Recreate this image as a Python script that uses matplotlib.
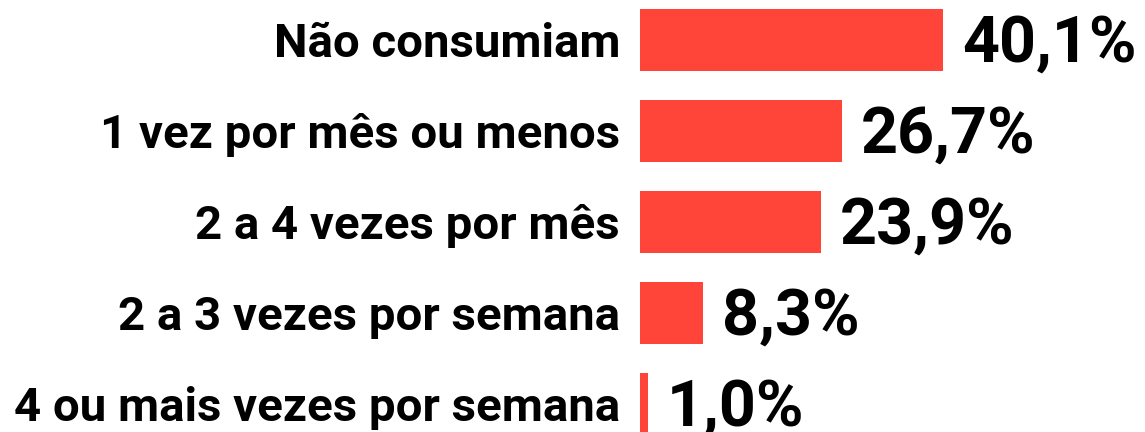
import matplotlib
matplotlib.use("Agg")
import matplotlib.pyplot as plt
from matplotlib import font_manager

categories = [
    "Não consumiam",
    "1 vez por mês ou menos",
    "2 a 4 vezes por mês",
    "2 a 3 vezes por semana",
    "4 ou mais vezes por semana",
]
values = [40.1, 26.7, 23.9, 8.3, 1.0]
value_labels = ["40,1%", "26,7%", "23,9%", "8,3%", "1,0%"]

BAR_COLOR = "#FF4539"
W, H, DPI = 1145, 432, 100

names = sorted({f.name for f in font_manager.fontManager.ttflist})
family = "Roboto" if "Roboto" in names else "DejaVu Sans"

fig = plt.figure(figsize=(W / DPI, H / DPI), dpi=DPI)
fig.patch.set_facecolor("white")

# axes start where the bars begin; y runs in pixel rows from the top
x0 = 640
px_per_unit = 303 / 40.1
ax = fig.add_axes([x0 / W, 0, 1 - x0 / W, 1])
ax.set_xlim(0, (W - x0) / px_per_unit)
ax.set_ylim(H, 0)
ax.axis("off")

pitch = 91
first = 40
bar_h = 62
centers = [first + pitch * i for i in range(len(categories))]

ax.barh(centers, values, height=bar_h, color=BAR_COLOR, left=0)

for yc, cat, v, lab in zip(centers, categories, values, value_labels):
    ax.annotate(cat, xy=(0, yc + 17), xycoords="data",
                xytext=(-20 * 72 / DPI, 0), textcoords="offset points",
                ha="right", va="baseline", fontsize=34.1,
                fontfamily=family, fontweight="bold", color="black",
                annotation_clip=False)
    ax.annotate(lab, xy=(v, yc + 22), xycoords="data",
                xytext=(19 * 72 / DPI, 0), textcoords="offset points",
                ha="left", va="baseline", fontsize=46.5,
                fontfamily=family, fontweight="bold", color="black",
                annotation_clip=False)

fig.savefig("out.png", dpi=DPI, facecolor="white")
